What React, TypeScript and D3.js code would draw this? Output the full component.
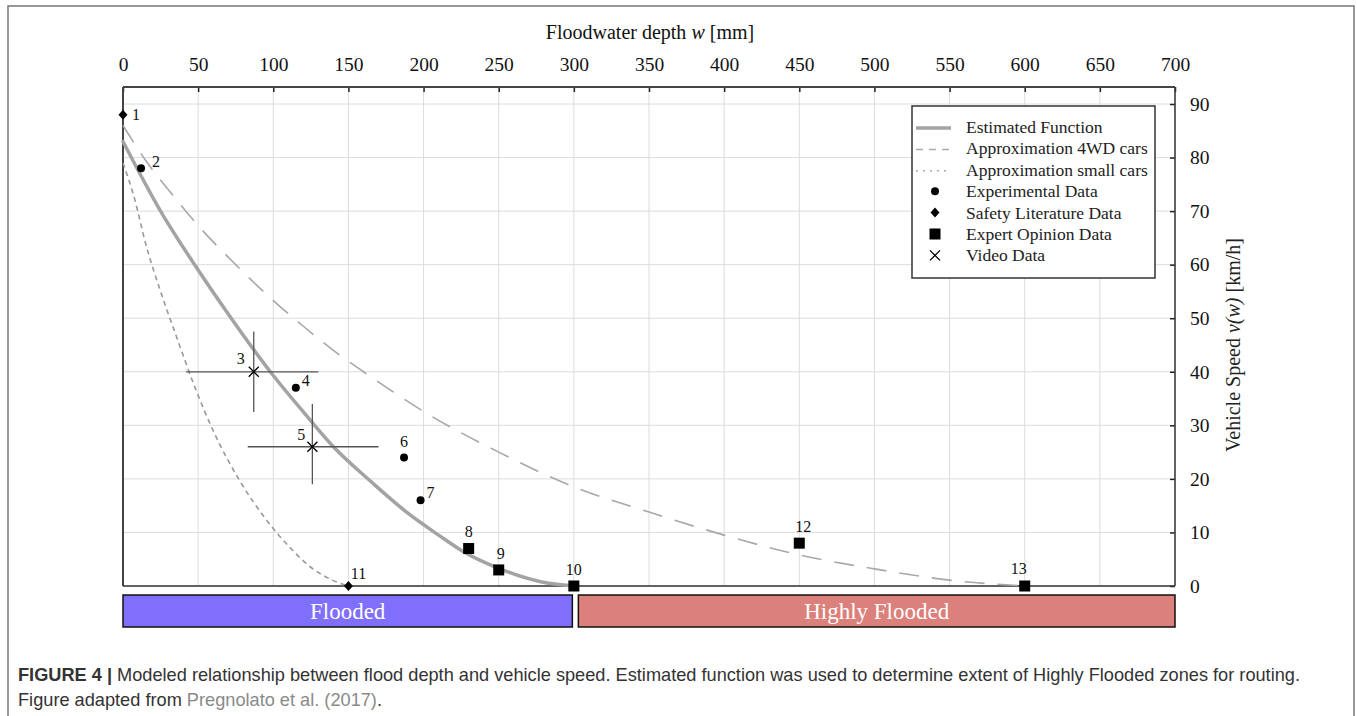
import React, { useEffect, useRef } from 'react'
import * as d3 from 'd3'

// tick labels
const depthTicks = [0, 50, 100, 150, 200, 250, 300, 350, 400, 450, 500, 550, 600, 650, 700]
const speedTicks = [0, 10, 20, 30, 40, 50, 60, 70, 80, 90]

// estimated function (solid)
const estW = [0, 25, 50, 72, 98, 120, 140, 165, 190, 210, 226, 250, 278, 300]
const estV = [83, 70, 59, 50, 40, 32.5, 26, 19.5, 13.5, 9.5, 6.5, 3.3, 0.8, 0]
// approximation 4WD cars (dashed)
const wdW = [0, 15, 33, 50, 75, 100, 120, 140, 160, 180, 200, 250, 300, 350, 400, 450, 500, 550, 600]
const wdV = [86, 79.5, 73, 67.3, 60, 53.3, 48.5, 44, 40, 36.2, 32.6, 25, 18.5, 13.8, 9.5, 5.8, 3.2, 1.1, 0]
// approximation small cars (dotted)
const smallW = [0, 8, 15, 25, 35, 48, 60, 78, 95, 110, 125, 140, 150]
const smallV = [79, 72, 64, 55, 47, 37, 29, 19.5, 12.5, 7.5, 3.5, 1, 0]

// numbered observations
const pointIds = [1, 2, 3, 4, 5, 6, 7, 8, 9, 10, 11, 12, 13]
const pointW = [0, 12, 87, 115, 126, 187, 198, 230, 250, 300, 150, 450, 600]
const pointV = [88, 78, 40, 37, 26, 24, 16, 7, 3, 0, 0, 8, 0]
const pointKind = ['safety', 'exp', 'video', 'exp', 'video', 'exp', 'exp', 'expert', 'expert', 'expert', 'safety', 'expert', 'expert']
// video data ranges
const videoW = [87, 126]
const videoV = [40, 26]
const videoRangeW = [[42, 130], [83, 170]]
const videoRangeV = [[32.5, 47.5], [19, 34]]

// zones
const zoneNames = ['Flooded', 'Highly Flooded']
const zoneFrom = [0, 303]
const zoneTo = [299, 700]

const legendLabels = ['Estimated Function', 'Approximation 4WD cars', 'Approximation small cars',
  'Experimental Data', 'Safety Literature Data', 'Expert Opinion Data', 'Video Data']

const labelPlace: Record<number, [number, number, string]> = {
  1: [9, 5, 'start'], 2: [11, -1, 'start'], 3: [-9, -8, 'end'], 4: [6, -2, 'start'],
  5: [-7, -7, 'end'], 6: [0, -10, 'middle'], 7: [6, -2, 'start'], 8: [0, -12, 'middle'],
  9: [2, -11, 'middle'], 10: [0, -11, 'middle'], 11: [10, -7, 'middle'], 12: [4, -11, 'middle'],
  13: [-6, -12, 'middle']
}

const W = 1357
const H = 716
const serif = '"Liberation Serif", "Times New Roman", serif'
const sans = '"Liberation Sans", Arial, sans-serif'

function drawMarker(g: any, kind: string, cx: number, cy: number) {
  if (kind === 'exp') {
    g.append('circle').attr('cx', cx).attr('cy', cy).attr('r', 4).attr('fill', '#000')
  } else if (kind === 'safety') {
    g.append('path').attr('d', `M${cx},${cy - 5}L${cx + 4.5},${cy}L${cx},${cy + 5}L${cx - 4.5},${cy}Z`).attr('fill', '#000')
  } else if (kind === 'expert') {
    g.append('rect').attr('x', cx - 5.5).attr('y', cy - 5.5).attr('width', 11).attr('height', 11).attr('fill', '#000')
  } else {
    g.append('path').attr('d', `M${cx - 5},${cy - 5}L${cx + 5},${cy + 5}M${cx - 5},${cy + 5}L${cx + 5},${cy - 5}`)
      .attr('stroke', '#000').attr('stroke-width', 1.3)
  }
}

export default function App() {
  const ref = useRef<SVGSVGElement>(null)

  useEffect(() => {
    const svg = d3.select(ref.current)
    svg.selectAll('*').remove()

    const left = 123, right = 1175, top = 87, bottom = 586

    const x = d3.scaleLinear().domain([0, 700]).range([left, right])
    const y = d3.scaleLinear().domain([0, 90]).range([bottom, 104])

    // outer frame
    svg.append('path').attr('d', `M8,${H}L8,6L1354,6L1354,${H}`)
      .attr('fill', 'none').attr('stroke', '#777').attr('stroke-width', 1.5)

    // grid
    const grid = svg.append('g').attr('stroke', '#dcdcdc').attr('stroke-width', 1)
    grid.selectAll('line.gx').data(depthTicks).join('line')
      .attr('x1', d => x(d)).attr('x2', d => x(d)).attr('y1', top).attr('y2', bottom)
    grid.selectAll('line.gy').data(speedTicks).join('line').attr('class', 'gy')
      .attr('x1', left).attr('x2', right).attr('y1', d => y(d)).attr('y2', d => y(d))

    // top axis (ticks inward)
    svg.append('g').attr('transform', `translate(0,${top})`)
      .call(d3.axisTop(x).tickValues(depthTicks).tickSize(-5).tickPadding(16).tickSizeOuter(0))
      .call(g => g.select('.domain').remove())
      .call(g => g.selectAll('line').attr('stroke', '#222').attr('stroke-width', 1.5))
      .call(g => g.selectAll('text').attr('font-family', serif).attr('font-size', 19.5).attr('fill', '#111'))

    // right axis (ticks inward)
    svg.append('g').attr('transform', `translate(${right},0)`)
      .call(d3.axisRight(y).tickValues(speedTicks).tickSize(-5).tickPadding(15).tickSizeOuter(0))
      .call(g => g.select('.domain').remove())
      .call(g => g.selectAll('line').attr('stroke', '#222').attr('stroke-width', 1.5))
      .call(g => g.selectAll('text').attr('font-family', serif).attr('font-size', 19.5).attr('fill', '#111'))

    // plot frame
    svg.append('line').attr('x1', left).attr('x2', right).attr('y1', top).attr('y2', top).attr('stroke', '#444').attr('stroke-width', 2)
    svg.append('line').attr('x1', left).attr('x2', left).attr('y1', top).attr('y2', bottom).attr('stroke', '#444').attr('stroke-width', 2)
    svg.append('line').attr('x1', right).attr('x2', right).attr('y1', top).attr('y2', bottom).attr('stroke', '#333').attr('stroke-width', 1.5)
    svg.append('line').attr('x1', left).attr('x2', right).attr('y1', bottom).attr('y2', bottom).attr('stroke', '#333').attr('stroke-width', 1.5)

    // axis titles
    const xt = svg.append('text').attr('x', 650).attr('y', 39).attr('text-anchor', 'middle')
      .attr('font-family', serif).attr('font-size', 20).attr('fill', '#111')
    xt.append('tspan').text('Floodwater depth ')
    xt.append('tspan').attr('font-style', 'italic').text('w')
    xt.append('tspan').text(' [mm]')

    const yt = svg.append('text').attr('transform', `translate(1240,345) rotate(-90)`).attr('text-anchor', 'middle')
      .attr('font-family', serif).attr('font-size', 20).attr('fill', '#222')
    yt.append('tspan').text('Vehicle Speed ')
    yt.append('tspan').attr('font-style', 'italic').text('v(w)')
    yt.append('tspan').text(' [km/h]')

    const line = d3.line<[number, number]>().curve(d3.curveMonotoneX).x(d => x(d[0])).y(d => y(d[1]))

    svg.append('path').datum(smallW.map((w, i) => [w, smallV[i]] as [number, number]))
      .attr('fill', 'none').attr('stroke', '#999').attr('stroke-width', 1.6).attr('stroke-dasharray', '5 4')
      .attr('d', line)
    svg.append('path').datum(wdW.map((w, i) => [w, wdV[i]] as [number, number]))
      .attr('fill', 'none').attr('stroke', '#a8a8a8').attr('stroke-width', 1.6).attr('stroke-dasharray', '20 13')
      .attr('d', line)
    svg.append('path').datum(estW.map((w, i) => [w, estV[i]] as [number, number]))
      .attr('fill', 'none').attr('stroke', '#a3a3a3').attr('stroke-width', 3.5).attr('stroke-linecap', 'round')
      .attr('d', line)

    // video ranges
    const eb = svg.append('g').attr('stroke', '#555').attr('stroke-width', 1.3)
    videoW.forEach((w, i) => {
      eb.append('line').attr('x1', x(videoRangeW[i][0])).attr('x2', x(videoRangeW[i][1])).attr('y1', y(videoV[i])).attr('y2', y(videoV[i]))
      eb.append('line').attr('x1', x(w)).attr('x2', x(w)).attr('y1', y(videoRangeV[i][0])).attr('y2', y(videoRangeV[i][1]))
    })

    // points + labels
    const pts = svg.append('g')
    pointIds.forEach((id, i) => {
      const cx = x(pointW[i]), cy = y(pointV[i])
      drawMarker(pts, pointKind[i], cx, cy)
      const [dx, dy, anchor] = labelPlace[id]
      pts.append('text').attr('x', cx + dx).attr('y', cy + dy).attr('text-anchor', anchor)
        .attr('font-family', serif).attr('font-size', 16).attr('fill', '#111').text(id)
    })

    // zone bars
    zoneNames.forEach((name, i) => {
      svg.append('rect').attr('x', x(zoneFrom[i])).attr('y', 595).attr('width', x(zoneTo[i]) - x(zoneFrom[i])).attr('height', 32)
        .attr('fill', i === 0 ? '#7f6ffb' : '#db807b').attr('stroke', '#111').attr('stroke-width', 1.5)
      svg.append('text').attr('x', (x(zoneFrom[i]) + x(zoneTo[i])) / 2).attr('y', 619).attr('text-anchor', 'middle')
        .attr('font-family', serif).attr('font-size', 23).attr('fill', '#fff').text(name)
    })

    // legend
    const lg = svg.append('g')
    lg.append('rect').attr('x', 912).attr('y', 106).attr('width', 243).attr('height', 172)
      .attr('fill', '#fff').attr('stroke', '#333').attr('stroke-width', 1.5)
    legendLabels.forEach((lab, i) => {
      const ly = 128 + i * 21.4
      if (i === 0) lg.append('line').attr('x1', 916).attr('x2', 951).attr('y1', ly).attr('y2', ly).attr('stroke', '#a3a3a3').attr('stroke-width', 3.5)
      else if (i === 1) lg.append('line').attr('x1', 916).attr('x2', 951).attr('y1', ly).attr('y2', ly).attr('stroke', '#aaa').attr('stroke-width', 1.5).attr('stroke-dasharray', '7 6')
      else if (i === 2) lg.append('line').attr('x1', 916).attr('x2', 951).attr('y1', ly).attr('y2', ly).attr('stroke', '#aaa').attr('stroke-width', 1.5).attr('stroke-dasharray', '2 5')
      else drawMarker(lg, ['exp', 'safety', 'expert', 'video'][i - 3], 935, ly - 1)
      lg.append('text').attr('x', 966).attr('y', ly + 5).attr('font-family', serif).attr('font-size', 17.5).attr('fill', '#222').text(lab)
    })

    // caption
    const c1 = svg.append('text').attr('x', 18).attr('y', 681).attr('font-family', sans).attr('font-size', 18.2).attr('fill', '#333')
    c1.append('tspan').attr('font-weight', 'bold').text('FIGURE 4 | ')
    c1.append('tspan').text('Modeled relationship between flood depth and vehicle speed. Estimated function was used to determine extent of Highly Flooded zones for routing.')
    const c2 = svg.append('text').attr('x', 18).attr('y', 706).attr('font-family', sans).attr('font-size', 18.2).attr('fill', '#333')
    c2.append('tspan').text('Figure adapted from ')
    c2.append('tspan').attr('fill', '#8a8a8a').text('Pregnolato et al. (2017)')
    c2.append('tspan').text('.')
  }, [])

  return <svg ref={ref} width={W} height={H} style={{ position: 'absolute', left: 0, top: 0, background: '#fff' }} />
}
